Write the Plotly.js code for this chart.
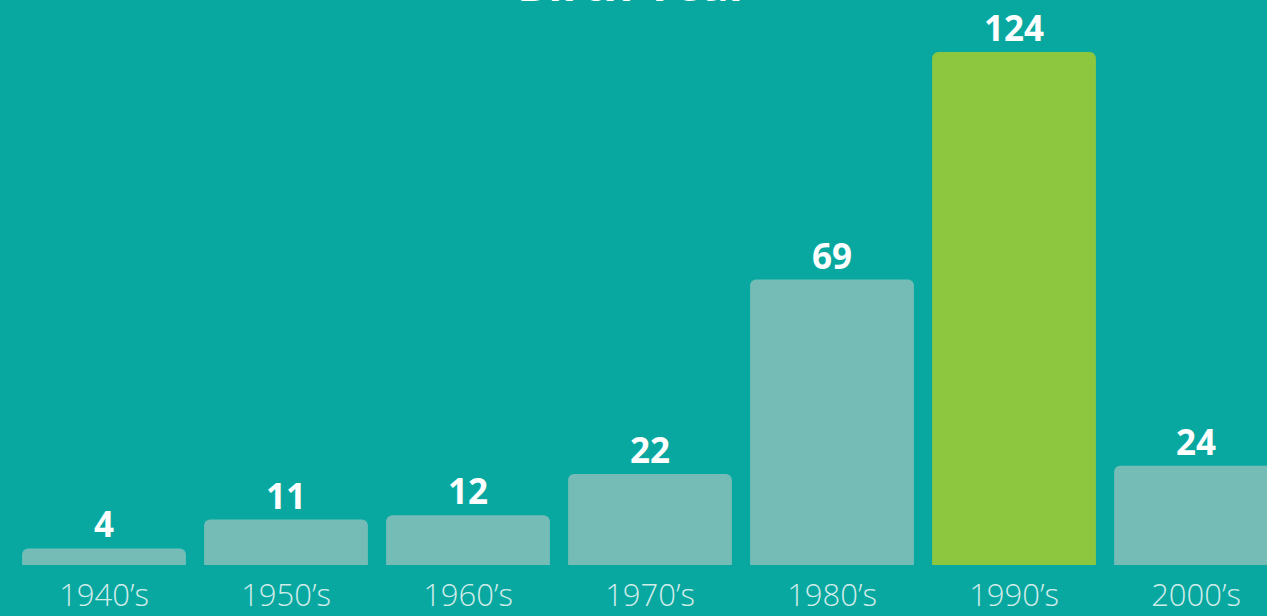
<!DOCTYPE html>
<html>
<head>
<meta charset="utf-8">
<script src="https://cdn.plot.ly/plotly-3.0.1.min.js"></script>
<style>html,body{margin:0;padding:0;background:#08A8A0;overflow:hidden}#chart{width:1267px;height:616px}</style>
</head>
<body>
<div id="chart"></div>
<script>
const categories = ["1940\u2019s","1950\u2019s","1960\u2019s","1970\u2019s","1980\u2019s","1990\u2019s","2000\u2019s"];
const counts = [4, 11, 12, 22, 69, 124, 24];
const highlight = "1990\u2019s";

const barColors = categories.map(c => c === highlight ? "#8DC63F" : "#75BCB7");
const idx = categories.map((c, i) => i);

const trace = {
  type: "bar",
  x: idx,
  y: counts,
  width: 0.9,
  marker: {color: barColors, cornerradius: 6, line: {width: 0}},
  hoverinfo: "none"
};

const annotations = idx.map((i, k) => ({
  x: i, y: counts[k], xref: "x", yref: "y",
  text: String(counts[k]), showarrow: false,
  yanchor: "bottom", yshift: -1,
  font: {family: "Open Sans, sans-serif", size: 35, color: "#ffffff", weight: 700}
}));

const layout = {
  width: 1267, height: 616,
  paper_bgcolor: "#08A8A0", plot_bgcolor: "#08A8A0",
  margin: {l: 0, r: 0, t: 0, b: 51, pad: 0},
  title: {
    text: "<b>Birth Year</b>",
    font: {family: "Open Sans, sans-serif", size: 46, color: "#ffffff"},
    x: 0.5, xanchor: "center", xref: "paper",
    y: 0.998, yanchor: "bottom", yref: "container"
  },
  showlegend: false,
  xaxis: {
    range: [-0.5714, 6.39],
    tickvals: idx, ticktext: categories,
    showgrid: false, zeroline: false, showline: false, ticks: "",
    ticklabelstandoff: 9,
    tickfont: {family: "Open Sans, sans-serif", size: 31, color: "#D2ECEA", weight: 300},
    fixedrange: true
  },
  yaxis: {
    range: [0, 136.6], visible: false, showgrid: false, zeroline: false, fixedrange: true
  },
  annotations: annotations
};

Plotly.newPlot("chart", [trace], layout, {displayModeBar: false, staticPlot: true});
</script>
</body>
</html>
